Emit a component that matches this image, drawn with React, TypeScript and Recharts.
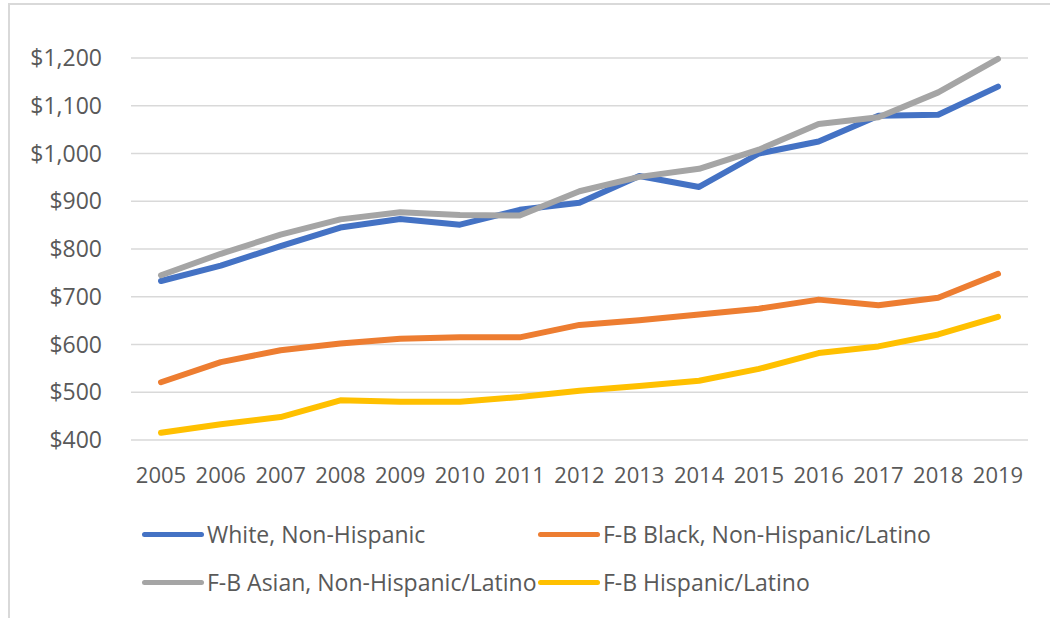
import { LineChart, Line, XAxis, YAxis, CartesianGrid } from "recharts";

const years = ["2005", "2006", "2007", "2008", "2009", "2010", "2011", "2012", "2013", "2014", "2015", "2016", "2017", "2018", "2019"];

const white = [733, 765, 806, 845, 863, 851, 882, 897, 953, 930, 1000, 1025, 1079, 1081, 1140];
const fbBlack = [521, 563, 588, 602, 612, 615, 615, 641, 651, 663, 675, 694, 682, 698, 748];
const fbAsian = [745, 790, 830, 862, 877, 871, 870, 921, 951, 968, 1008, 1062, 1076, 1128, 1198];
const fbHispanic = [415, 433, 448, 483, 480, 480, 490, 503, 513, 524, 549, 582, 596, 621, 658];

const yTicks = [400, 500, 600, 700, 800, 900, 1000, 1100, 1200];

const series = [
  { key: "white", name: "White, Non-Hispanic", color: "#4472C4", values: white },
  { key: "black", name: "F-B Black, Non-Hispanic/Latino", color: "#ED7D31", values: fbBlack },
  { key: "asian", name: "F-B Asian, Non-Hispanic/Latino", color: "#A5A5A5", values: fbAsian },
  { key: "hispanic", name: "F-B Hispanic/Latino", color: "#FFC000", values: fbHispanic },
];

const data = years.map((year, i) => {
  const row: Record<string, string | number> = { year };
  series.forEach((s) => {
    row[s.key] = s.values[i];
  });
  return row;
});

const FONT = "'Open Sans', sans-serif";
const TEXT = "#595959";

const formatDollar = (v: number) => "$" + v.toLocaleString("en-US");

function LegendItem({ name, color }: { name: string; color: string }) {
  return (
    <div style={{ display: "flex", alignItems: "center", height: 30 }}>
      <div style={{ width: 62, height: 5, borderRadius: 3, background: color, marginRight: 3 }} />
      <span style={{ fontSize: 23, color: TEXT, fontFamily: FONT, whiteSpace: "nowrap" }}>{name}</span>
    </div>
  );
}

export default function App() {
  return (
    <div style={{ position: "absolute", left: 0, top: 0, width: 1050, height: 618, background: "#fff", overflow: "hidden" }}>
      <div
        style={{
          position: "absolute",
          left: 8,
          top: 3,
          width: 1050,
          height: 620,
          borderLeft: "2px solid #d9d9d9",
          borderTop: "2px solid #d9d9d9",
        }}
      />
      <div style={{ position: "absolute", left: 0, top: 0 }}>
        <LineChart width={1050} height={618} data={data} margin={{ top: 58, right: 22, bottom: 138, left: 0 }}>
          <CartesianGrid vertical={false} stroke="#d9d9d9" strokeWidth={1.5} />
          <XAxis
            dataKey="year"
            axisLine={false}
            tickLine={false}
            tickSize={0}
            tickMargin={27}
            height={40}
            padding={{ left: 30, right: 30 }}
            interval={0}
            tick={{ fontSize: 22, fill: TEXT, fontFamily: FONT }}
          />
          <YAxis
            domain={[400, 1200]}
            ticks={yTicks}
            width={131}
            axisLine={false}
            tickLine={false}
            tickSize={0}
            tickMargin={29}
            tickFormatter={formatDollar}
            tick={{ fontSize: 23, fill: TEXT, fontFamily: FONT }}
          />
          {series.map((s) => (
            <Line
              key={s.key}
              dataKey={s.key}
              name={s.name}
              stroke={s.color}
              strokeWidth={6}
              strokeLinecap="round"
              strokeLinejoin="round"
              dot={false}
              isAnimationActive={false}
            />
          ))}
        </LineChart>
      </div>
      <div
        style={{
          position: "absolute",
          left: 142,
          top: 519,
          display: "grid",
          gridTemplateColumns: "396px auto",
          rowGap: 18,
        }}
      >
        {series.map((s) => (
          <LegendItem key={s.key} name={s.name} color={s.color} />
        ))}
      </div>
    </div>
  );
}
